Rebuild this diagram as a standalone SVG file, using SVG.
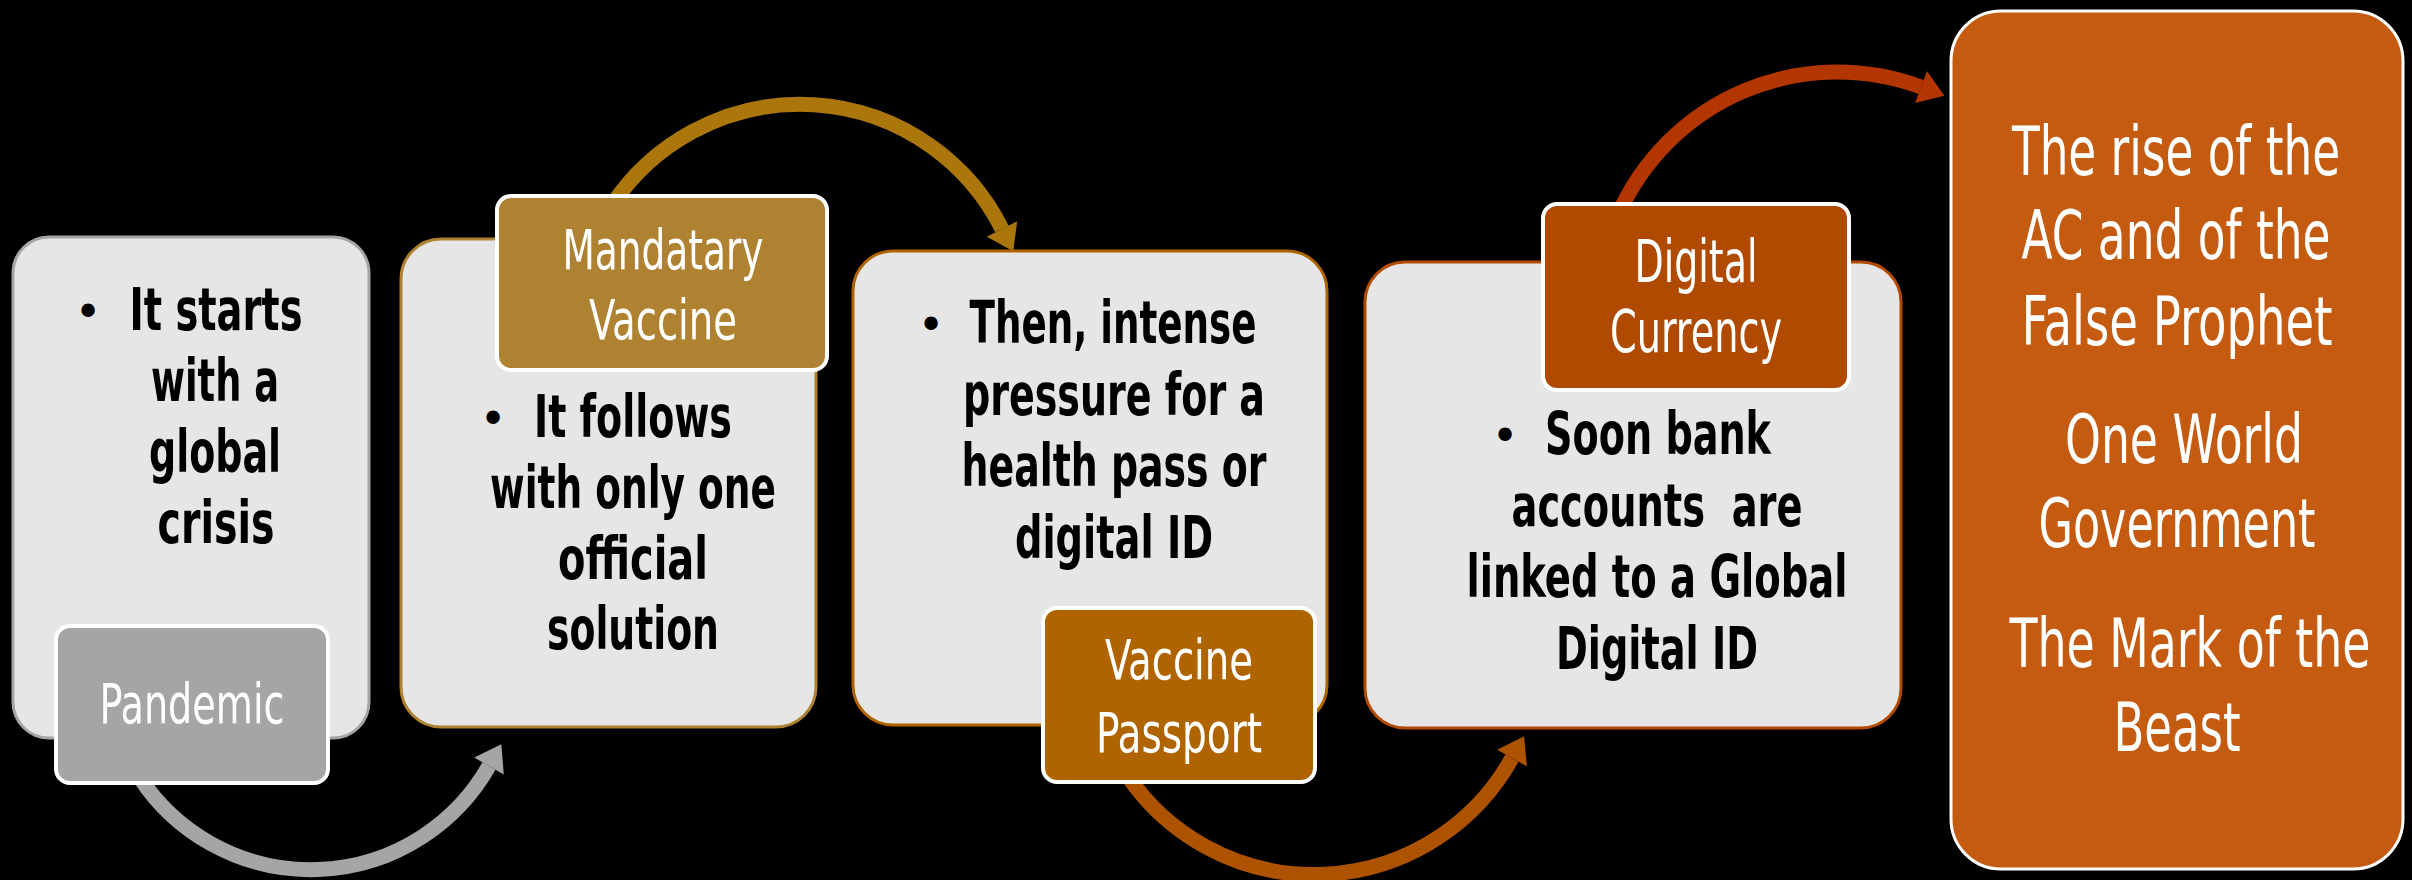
<svg xmlns="http://www.w3.org/2000/svg" width="2412" height="880" viewBox="0 0 2412 880">
  <style>
    .box { fill: #e7e6e6; stroke-width: 3; }
    .lbl { stroke: #ffffff; stroke-width: 4; }
    .body { font-family: "DejaVu Sans Condensed", "DejaVu Sans", "Liberation Sans", sans-serif; font-stretch: condensed; font-weight: bold; font-size: 58px; fill: #000000; text-anchor: middle; }
    .bul { font-family: "DejaVu Sans", "Liberation Sans", sans-serif; font-size: 46px; fill: #000000; text-anchor: middle; }
    .ltxt { font-family: "DejaVu Sans Condensed", "DejaVu Sans", "Liberation Sans", sans-serif; font-stretch: condensed; font-size: 56px; fill: #ffffff; text-anchor: middle; }
    .big { font-family: "DejaVu Sans Condensed", "DejaVu Sans", "Liberation Sans", sans-serif; font-stretch: condensed; font-size: 68px; fill: #ffffff; text-anchor: middle; }
    .conn { fill: none; stroke-width: 15; }
  </style>
  <defs>
    <marker id="ah-gray" markerUnits="userSpaceOnUse" markerWidth="40" markerHeight="40" refX="0" refY="0" orient="auto" viewBox="-2 -20 30 40" overflow="visible">
      <path d="M0,-17 L25,0 L0,17 z" fill="#a5a5a5"/>
    </marker>
    <marker id="ah-gold" markerUnits="userSpaceOnUse" markerWidth="40" markerHeight="40" refX="0" refY="0" orient="auto" viewBox="-2 -20 30 40" overflow="visible">
      <path d="M0,-17 L25,0 L0,17 z" fill="#ab770c"/>
    </marker>
    <marker id="ah-orange" markerUnits="userSpaceOnUse" markerWidth="40" markerHeight="40" refX="0" refY="0" orient="auto" viewBox="-2 -20 30 40" overflow="visible">
      <path d="M0,-17 L25,0 L0,17 z" fill="#ad5300"/>
    </marker>
    <marker id="ah-red" markerUnits="userSpaceOnUse" markerWidth="40" markerHeight="40" refX="0" refY="0" orient="auto" viewBox="-2 -20 30 40" overflow="visible">
      <path d="M0,-17 L25,0 L0,17 z" fill="#b33500"/>
    </marker>
  </defs>
  <rect x="0" y="0" width="2412" height="880" fill="#000000"/>

  <g id="connectors">
    <path class="conn" d="M 140 778 A 205 205 0 0 0 489 766" stroke="#a5a5a5" marker-end="url(#ah-gray)"/>
    <path class="conn" d="M 612 205 A 226 226 0 0 1 1002 229" stroke="#ab770c" marker-end="url(#ah-gold)"/>
    <path class="conn" d="M 1127 775 A 226 226 0 0 0 1512 758" stroke="#ad5300" marker-end="url(#ah-orange)"/>
    <path class="conn" d="M 1618 215 A 240 240 0 0 1 1921 87" stroke="#b33500" marker-end="url(#ah-red)"/>
  </g>

  <g id="step1">
    <rect class="box" x="13" y="237" width="356" height="501" rx="36" ry="36" stroke="#a5a5a5"/>
    <text class="bul" x="88" y="328">•</text>
    <text class="body" x="216" y="330" textLength="173" lengthAdjust="spacingAndGlyphs">It starts</text>
    <text class="body" x="215" y="401" textLength="128" lengthAdjust="spacingAndGlyphs">with a</text>
    <text class="body" x="215" y="472" textLength="132" lengthAdjust="spacingAndGlyphs">global</text>
    <text class="body" x="216" y="543" textLength="117" lengthAdjust="spacingAndGlyphs">crisis</text>
  </g>
  <g id="label-pandemic">
    <rect class="lbl" x="56" y="626" width="272" height="157" rx="14" ry="14" fill="#a5a5a5"/>
    <text class="ltxt" x="192" y="723" textLength="185" lengthAdjust="spacingAndGlyphs">Pandemic</text>
  </g>

  <g id="step2">
    <rect class="box" x="401" y="239" width="415" height="488" rx="40" ry="40" stroke="#ae8231"/>
    <text class="bul" x="493" y="435">•</text>
    <text class="body" x="633" y="437" textLength="198" lengthAdjust="spacingAndGlyphs">It follows</text>
    <text class="body" x="633" y="508" textLength="286" lengthAdjust="spacingAndGlyphs">with only one</text>
    <text class="body" x="633" y="579" textLength="150" lengthAdjust="spacingAndGlyphs">official</text>
    <text class="body" x="633" y="649" textLength="172" lengthAdjust="spacingAndGlyphs">solution</text>
  </g>
  <g id="label-mandatary">
    <rect class="lbl" x="497" y="196" width="330" height="174" rx="14" ry="14" fill="#ae8231"/>
    <text class="ltxt" x="663" y="269" textLength="201" lengthAdjust="spacingAndGlyphs">Mandatary</text>
    <text class="ltxt" x="663" y="339" textLength="148" lengthAdjust="spacingAndGlyphs">Vaccine</text>
  </g>

  <g id="step3">
    <rect class="box" x="853" y="251" width="474" height="474" rx="40" ry="40" stroke="#b06400"/>
    <text class="bul" x="931" y="341">•</text>
    <text class="body" x="1113" y="343" textLength="287" lengthAdjust="spacingAndGlyphs">Then, intense</text>
    <text class="body" x="1114" y="415" textLength="302" lengthAdjust="spacingAndGlyphs">pressure for a</text>
    <text class="body" x="1114" y="486" textLength="305" lengthAdjust="spacingAndGlyphs">health pass or</text>
    <text class="body" x="1114" y="558" textLength="198" lengthAdjust="spacingAndGlyphs">digital ID</text>
  </g>
  <g id="label-passport">
    <rect class="lbl" x="1043" y="608" width="272" height="174" rx="14" ry="14" fill="#b06400"/>
    <text class="ltxt" x="1179" y="679" textLength="148" lengthAdjust="spacingAndGlyphs">Vaccine</text>
    <text class="ltxt" x="1179" y="752" textLength="166" lengthAdjust="spacingAndGlyphs">Passport</text>
  </g>

  <g id="step4">
    <rect class="box" x="1365" y="262" width="536" height="466" rx="40" ry="40" stroke="#b34a00"/>
    <text class="bul" x="1505" y="452">•</text>
    <text class="body" x="1658" y="454" textLength="226" lengthAdjust="spacingAndGlyphs">Soon bank</text>
    <text class="body" x="1657" y="526" textLength="291" lengthAdjust="spacingAndGlyphs" xml:space="preserve">accounts  are</text>
    <text class="body" x="1657" y="597" textLength="381" lengthAdjust="spacingAndGlyphs">linked to a Global</text>
    <text class="body" x="1657" y="669" textLength="202" lengthAdjust="spacingAndGlyphs">Digital ID</text>
  </g>
  <g id="label-currency">
    <rect class="lbl" x="1543" y="204" width="306" height="186" rx="14" ry="14" fill="#b04a00"/>
    <text class="ltxt" x="1696" y="282" textLength="123" lengthAdjust="spacingAndGlyphs" style="font-size:59px">Digital</text>
    <text class="ltxt" x="1696" y="352" textLength="172" lengthAdjust="spacingAndGlyphs" style="font-size:59px">Currency</text>
  </g>

  <g id="outcome">
    <rect x="1951" y="11" width="452" height="858" rx="50" ry="50" fill="#c55a11" stroke="#ffffff" stroke-width="3"/>
    <text class="big" x="2176" y="175" textLength="328" lengthAdjust="spacingAndGlyphs">The rise of the</text>
    <text class="big" x="2176" y="259" textLength="309" lengthAdjust="spacingAndGlyphs">AC and of the</text>
    <text class="big" x="2177" y="345" textLength="311" lengthAdjust="spacingAndGlyphs">False Prophet</text>
    <text class="big" x="2184" y="463" textLength="238" lengthAdjust="spacingAndGlyphs">One World</text>
    <text class="big" x="2177" y="547" textLength="277" lengthAdjust="spacingAndGlyphs">Government</text>
    <text class="big" x="2190" y="667" textLength="361" lengthAdjust="spacingAndGlyphs">The Mark of the</text>
    <text class="big" x="2177" y="751" textLength="127" lengthAdjust="spacingAndGlyphs">Beast</text>
  </g>
</svg>
